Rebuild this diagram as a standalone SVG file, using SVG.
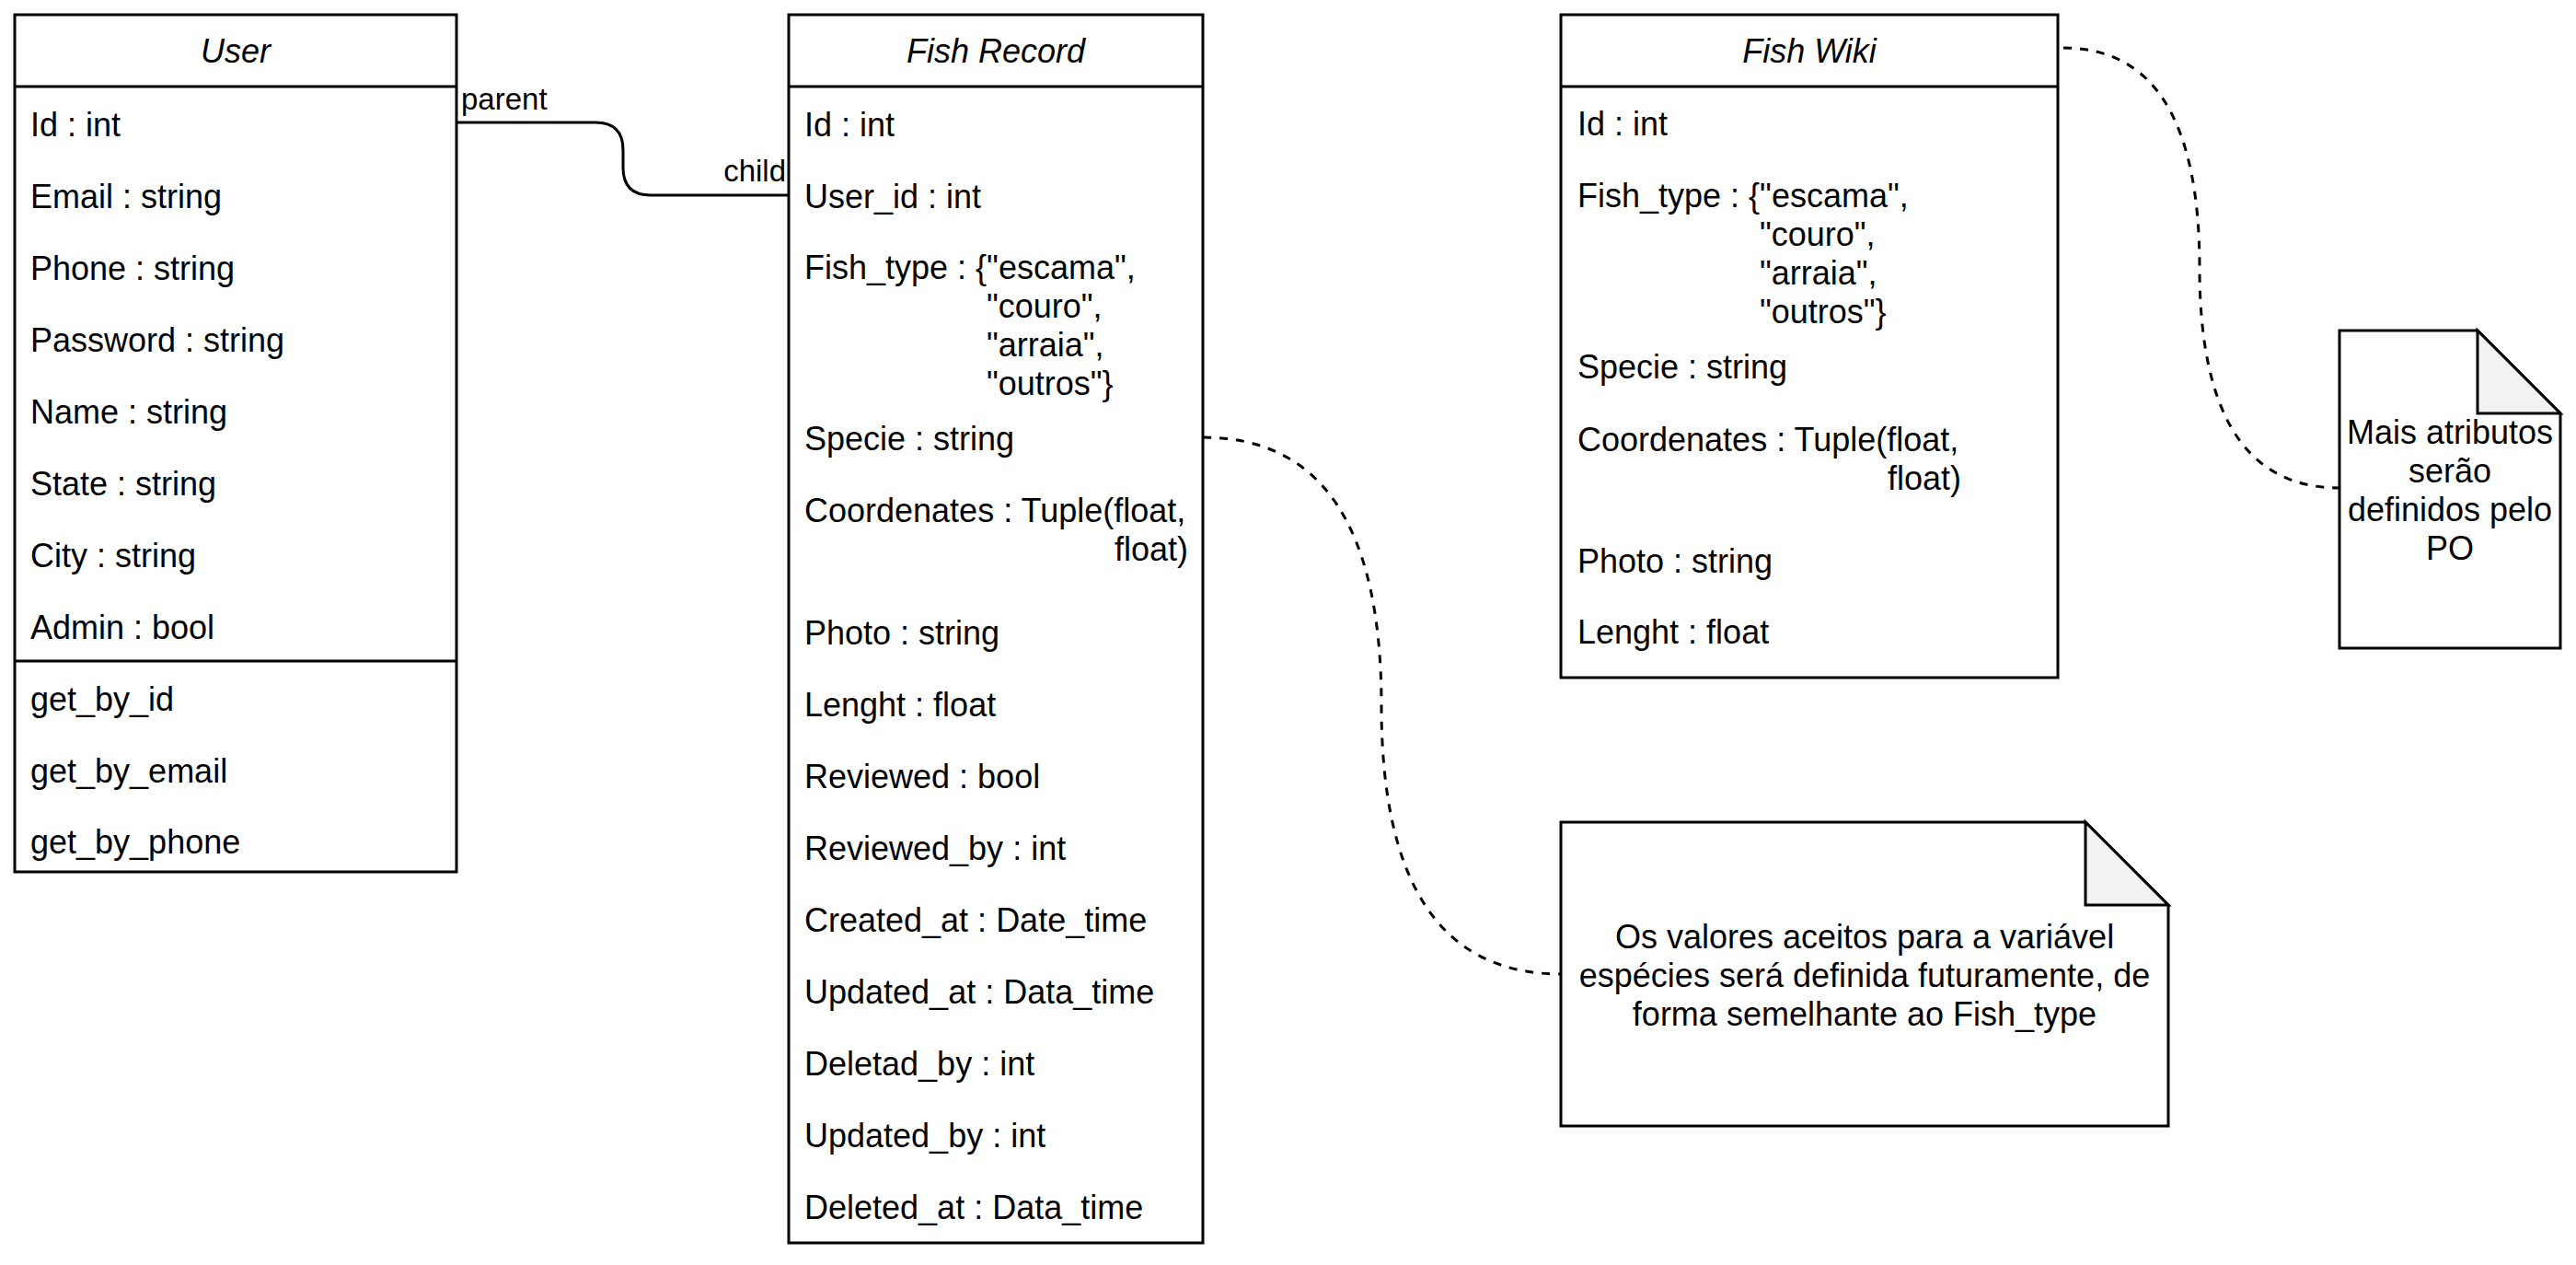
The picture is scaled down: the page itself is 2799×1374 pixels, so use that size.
<svg xmlns="http://www.w3.org/2000/svg" width="2799" height="1374" viewBox="0 0 2799 1374">
<style>
  text { font-family: "Liberation Sans", Arial, Helvetica, sans-serif; font-size: 36px; fill: #000; }
  .title { font-style: italic; text-anchor: middle; }
  .mid { text-anchor: middle; }
  .end { text-anchor: end; }
  .lbl { font-size: 33px; }
  .box { fill: #fff; stroke: #000; stroke-width: 3; }
  .ln { fill: none; stroke: #000; stroke-width: 3; }
  .fold { fill: #f2f2f2; stroke: #000; stroke-width: 3; stroke-linejoin: miter; }
  .edge { fill: none; stroke: #000; stroke-width: 3; }
  .dash { fill: none; stroke: #000; stroke-width: 3; stroke-dasharray: 9 9; }
</style>
<rect width="2799" height="1374" fill="#fff"/>

<g id="user">
  <rect class="box" x="16" y="16" width="480" height="931"/>
  <line class="ln" x1="16" y1="94" x2="496" y2="94"/>
  <line class="ln" x1="16" y1="718" x2="496" y2="718"/>
  <text class="title" x="256" y="68">User</text>
  <text x="33" y="148">Id : int</text>
  <text x="33" y="226">Email : string</text>
  <text x="33" y="304">Phone : string</text>
  <text x="33" y="382">Password : string</text>
  <text x="33" y="460">Name : string</text>
  <text x="33" y="538">State : string</text>
  <text x="33" y="616">City : string</text>
  <text x="33" y="694">Admin : bool</text>
  <text x="33" y="772">get_by_id</text>
  <text x="33" y="850">get_by_email</text>
  <text x="33" y="927">get_by_phone</text>
</g>

<g id="fish-record">
  <rect class="box" x="857" y="16" width="450" height="1334"/>
  <line class="ln" x1="857" y1="94" x2="1307" y2="94"/>
  <text class="title" x="1082" y="68">Fish Record</text>
  <text x="874" y="148">Id : int</text>
  <text x="874" y="226">User_id : int</text>
  <text x="874" y="303">Fish_type : {"escama",</text>
  <text x="1072" y="345">"couro",</text>
  <text x="1072" y="387">"arraia",</text>
  <text x="1072" y="429">"outros"}</text>
  <text x="874" y="489">Specie : string</text>
  <text x="874" y="567">Coordenates : Tuple(float,</text>
  <text class="end" x="1291" y="609">float)</text>
  <text x="874" y="700">Photo : string</text>
  <text x="874" y="778">Lenght : float</text>
  <text x="874" y="856">Reviewed : bool</text>
  <text x="874" y="934">Reviewed_by : int</text>
  <text x="874" y="1012">Created_at : Date_time</text>
  <text x="874" y="1090">Updated_at : Data_time</text>
  <text x="874" y="1168">Deletad_by : int</text>
  <text x="874" y="1246">Updated_by : int</text>
  <text x="874" y="1324">Deleted_at : Data_time</text>
</g>

<g id="fish-wiki">
  <rect class="box" x="1696" y="16" width="540" height="720"/>
  <line class="ln" x1="1696" y1="94" x2="2236" y2="94"/>
  <text class="title" x="1966" y="68">Fish Wiki</text>
  <text x="1714" y="147">Id : int</text>
  <text x="1714" y="225">Fish_type : {"escama",</text>
  <text x="1912" y="267">"couro",</text>
  <text x="1912" y="309">"arraia",</text>
  <text x="1912" y="351">"outros"}</text>
  <text x="1714" y="411">Specie : string</text>
  <text x="1714" y="490">Coordenates : Tuple(float,</text>
  <text class="end" x="2131" y="532">float)</text>
  <text x="1714" y="622">Photo : string</text>
  <text x="1714" y="699">Lenght : float</text>
</g>

<g id="note-species">
  <path class="box" d="M1696,893 L2266,893 L2356,983 L2356,1223 L1696,1223 Z"/>
  <path class="fold" d="M2266,893 L2266,983 L2356,983 Z"/>
  <text class="mid" x="2026" y="1030">Os valores aceitos para a variável</text>
  <text class="mid" x="2026" y="1072">espécies será definida futuramente, de</text>
  <text class="mid" x="2026" y="1114">forma semelhante ao Fish_type</text>
</g>

<g id="note-po">
  <path class="box" d="M2542,359 L2692,359 L2782,449 L2782,704 L2542,704 Z"/>
  <path class="fold" d="M2692,359 L2692,449 L2782,449 Z"/>
  <text class="mid" x="2662" y="482">Mais atributos</text>
  <text class="mid" x="2662" y="524">serão</text>
  <text class="mid" x="2662" y="566">definidos pelo</text>
  <text class="mid" x="2662" y="608">PO</text>
</g>

<g id="connectors">
  <path class="edge" d="M496,133 L647,133 Q677,133 677,163 L677,182 Q677,212 707,212 L857,212"/>
  <text class="lbl" x="501" y="119">parent</text>
  <text class="lbl end" x="854" y="197">child</text>
  <path class="dash" d="M1307,475 Q1501,475 1501,766.5 Q1501,1058 1696,1058"/>
  <path class="dash" d="M2242,52 Q2390,52 2390,291 Q2390,530 2542,530"/>
</g>
</svg>
